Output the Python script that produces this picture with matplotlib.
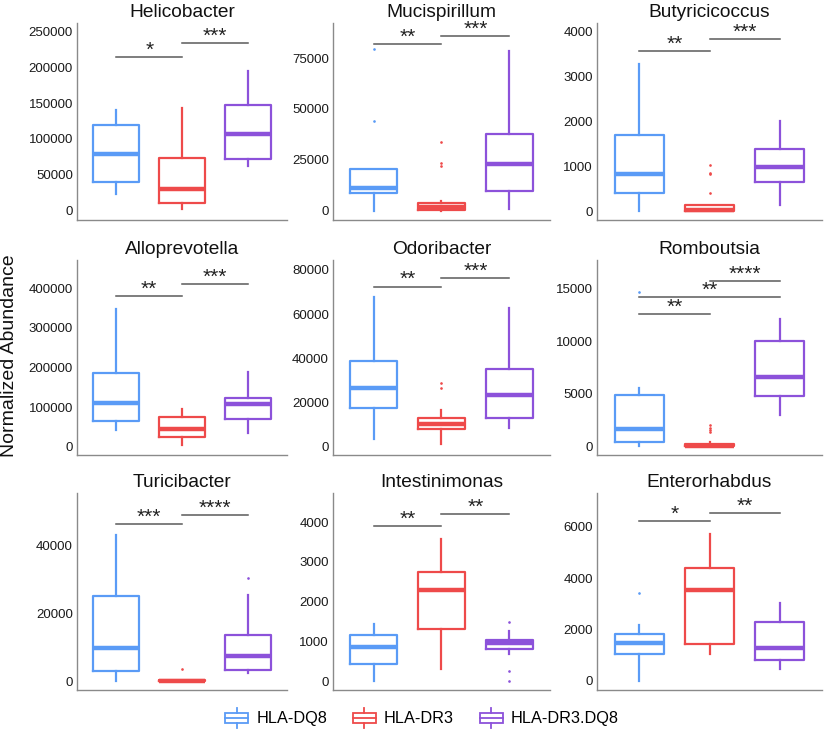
import matplotlib
matplotlib.use("Agg")
import matplotlib.pyplot as plt
from matplotlib.legend_handler import HandlerBase
from matplotlib.patches import Rectangle
from matplotlib.lines import Line2D

plt.rcParams['font.family'] = ['Liberation Sans', 'DejaVu Sans']

# ---------------- data ----------------
taxa = ["Helicobacter", "Mucispirillum", "Butyricicoccus",
        "Alloprevotella", "Odoribacter", "Romboutsia",
        "Turicibacter", "Intestinimonas", "Enterorhabdus"]
groups = ["HLA-DQ8", "HLA-DR3", "HLA-DR3.DQ8"]
group_colors = ["#5A9BF6", "#EE4A4A", "#8C52DA"]

# per taxon: [HLA-DQ8, HLA-DR3, HLA-DR3.DQ8]
whisker_low = [
    [22500, 900, 61900],
    [0, 0, 650],
    [0, 0, 134],
    [42500, 4200, 35800],
    [3450, 1050, 8300],
    [0, 0, 2940],
    [0, 0, 2270],
    [0, 302, 671],
    [0, 1026, 468],
]
q1 = [
    [39900, 9400, 71800],
    [8900, 300, 9800],
    [403, 0, 642],
    [64200, 24200, 69200],
    [17600, 8000, 13100],
    [350, 0, 4780],
    [2860, 0, 3250],
    [419, 1308, 797],
    [1026, 1416, 818],
]
median = [
    [79300, 30000, 106900],
    [11000, 2000, 23000],
    [828, 22, 993],
    [110800, 45800, 108300],
    [26600, 10100, 23600],
    [1610, 30, 6580],
    [9650, 100, 7290],
    [847, 2298, 948],
    [1455, 3533, 1286],
]
q3 = [
    [119600, 73600, 147700],
    [20700, 3600, 37700],
    [1694, 142, 1381],
    [185800, 75800, 121700],
    [39000, 12800, 35300],
    [4840, 190, 10000],
    [25120, 200, 13700],
    [1149, 2759, 1031],
    [1831, 4403, 2286],
]
whisker_high = [
    [139800, 143000, 194600],
    [20700, 4800, 78600],
    [3291, 142, 2000],
    [347500, 95800, 189200],
    [67700, 16700, 62600],
    [5570, 350, 12150],
    [43150, 400, 25600],
    [1434, 3589, 1266],
    [2182, 5715, 3014],
]
outliers = [
    [[], [], []],
    [[79400, 44100], [33800, 23500, 21800], []],
    [[], [1030, 860, 820, 410], []],
    [[], [], []],
    [[], [29000, 26700], []],
    [[14690], [2000, 1750, 1500, 1300], []],
    [[], [3550], [30500]],
    [[], [], [1476, 260, 0]],
    [[3430], [], []],
]

# significance brackets: (group a, group b), height, label
bracket_pairs = [
    [(1, 2), (2, 3)], [(1, 2), (2, 3)], [(1, 2), (2, 3)],
    [(1, 2), (2, 3)], [(1, 2), (2, 3)], [(1, 2), (1, 3), (2, 3)],
    [(1, 2), (2, 3)], [(1, 2), (2, 3)], [(1, 2), (2, 3)],
]
bracket_heights = [
    [214800, 234000], [81900, 85700], [3582, 3843],
    [379200, 410000], [72500, 76500], [12630, 14180, 15700],
    [46400, 49050], [3899, 4218], [6235, 6560],
]
bracket_labels = [
    ["*", "***"], ["**", "***"], ["**", "***"],
    ["**", "***"], ["**", "***"], ["**", "**", "****"],
    ["***", "****"], ["**", "**"], ["*", "**"],
]

y_ticks = [
    [0, 50000, 100000, 150000, 200000, 250000],
    [0, 25000, 50000, 75000],
    [0, 1000, 2000, 3000, 4000],
    [0, 100000, 200000, 300000, 400000],
    [0, 20000, 40000, 60000, 80000],
    [0, 5000, 10000, 15000],
    [0, 20000, 40000],
    [0, 1000, 2000, 3000, 4000],
    [0, 2000, 4000, 6000],
]
y_limits = [
    (-14000, 262600), (-4600, 92200), (-200, 4200),
    (-20800, 470800), (-3750, 84500), (-850, 17750),
    (-2660, 55650), (-226, 4738), (-364, 7326),
]

# ---------------- layout ----------------
W, H = 827, 734
fig = plt.figure(figsize=(W / 100, H / 100), dpi=100)

col_left = [77, 333, 597]
col_right = [287, 550, 822]
row_top = [23, 260, 493]
row_bottom = [220, 455, 690]

spine_color = "#8a8a8a"

for k, taxon in enumerate(taxa):
    r, c = divmod(k, 3)
    ax = fig.add_axes([col_left[c] / W, 1 - row_bottom[r] / H,
                       (col_right[c] - col_left[c]) / W,
                       (row_bottom[r] - row_top[r]) / H])
    for g in range(3):
        st = dict(whislo=whisker_low[k][g], q1=q1[k][g], med=median[k][g],
                  q3=q3[k][g], whishi=whisker_high[k][g],
                  fliers=outliers[k][g])
        col = group_colors[g]
        ax.bxp([st], positions=[g + 1], widths=0.7, showcaps=False,
               boxprops=dict(color=col, linewidth=1.6),
               whiskerprops=dict(color=col, linewidth=1.6),
               medianprops=dict(color=col, linewidth=3.2, solid_capstyle='butt'),
               flierprops=dict(marker='.', markersize=1.8, markerfacecolor=col,
                               markeredgecolor=col, linestyle='none'))
    for (a, b), hgt, lab in zip(bracket_pairs[k], bracket_heights[k], bracket_labels[k]):
        ax.plot([a, b], [hgt, hgt], color="#5a5a5a", linewidth=1.1)
        ax.annotate(lab, xy=((a + b) / 2, hgt), xytext=(0, -2),
                    textcoords="offset points", ha="center", va="bottom",
                    fontsize=15, color="#222222")
    ax.set_xlim(0.4, 3.6)
    ax.set_ylim(*y_limits[k])
    ax.set_yticks(y_ticks[k])
    ax.set_yticklabels([str(t) for t in y_ticks[k]])
    ax.set_xticks([])
    ax.tick_params(axis='y', length=0, pad=3, labelsize=9.5, labelcolor="#1a1a1a")
    for s in ["top", "right"]:
        ax.spines[s].set_visible(False)
    for s in ["left", "bottom"]:
        ax.spines[s].set_color(spine_color)
        ax.spines[s].set_linewidth(1.0)
    ax.set_title(taxon, fontsize=13.8, pad=4, color="#111111")

fig.text(10 / W, 1 - 356 / H, "Normalized Abundance", rotation=90,
         ha="center", va="center", fontsize=14, color="#111111")


class BoxHandler(HandlerBase):
    def create_artists(self, legend, orig_handle, xdescent, ydescent,
                       width, height, fontsize, trans):
        col = orig_handle.get_color()
        x0, y0 = -xdescent, -ydescent
        cx = x0 + width / 2
        bl, bt = y0 + 0.18 * height, y0 + 0.82 * height
        rect = Rectangle((x0, bl), width, bt - bl, facecolor="none",
                         edgecolor=col, linewidth=1.3, transform=trans)
        med = Line2D([x0, x0 + width], [y0 + 0.5 * height] * 2, color=col,
                     linewidth=1.3, transform=trans)
        w1 = Line2D([cx, cx], [y0 - 0.12 * height, bl], color=col,
                    linewidth=1.3, transform=trans)
        w2 = Line2D([cx, cx], [bt, y0 + 1.12 * height], color=col,
                    linewidth=1.3, transform=trans)
        return [rect, med, w1, w2]


handles = [Line2D([], [], color=c) for c in group_colors]
fig.legend(handles, groups, loc="center", bbox_to_anchor=(422 / W, 1 - 718 / H),
           ncol=3, frameon=False, fontsize=11.7, handlelength=1.4,
           handleheight=1.2, handletextpad=0.5, columnspacing=1.6,
           handler_map={Line2D: BoxHandler()})

fig.savefig("out.png", dpi=100)
